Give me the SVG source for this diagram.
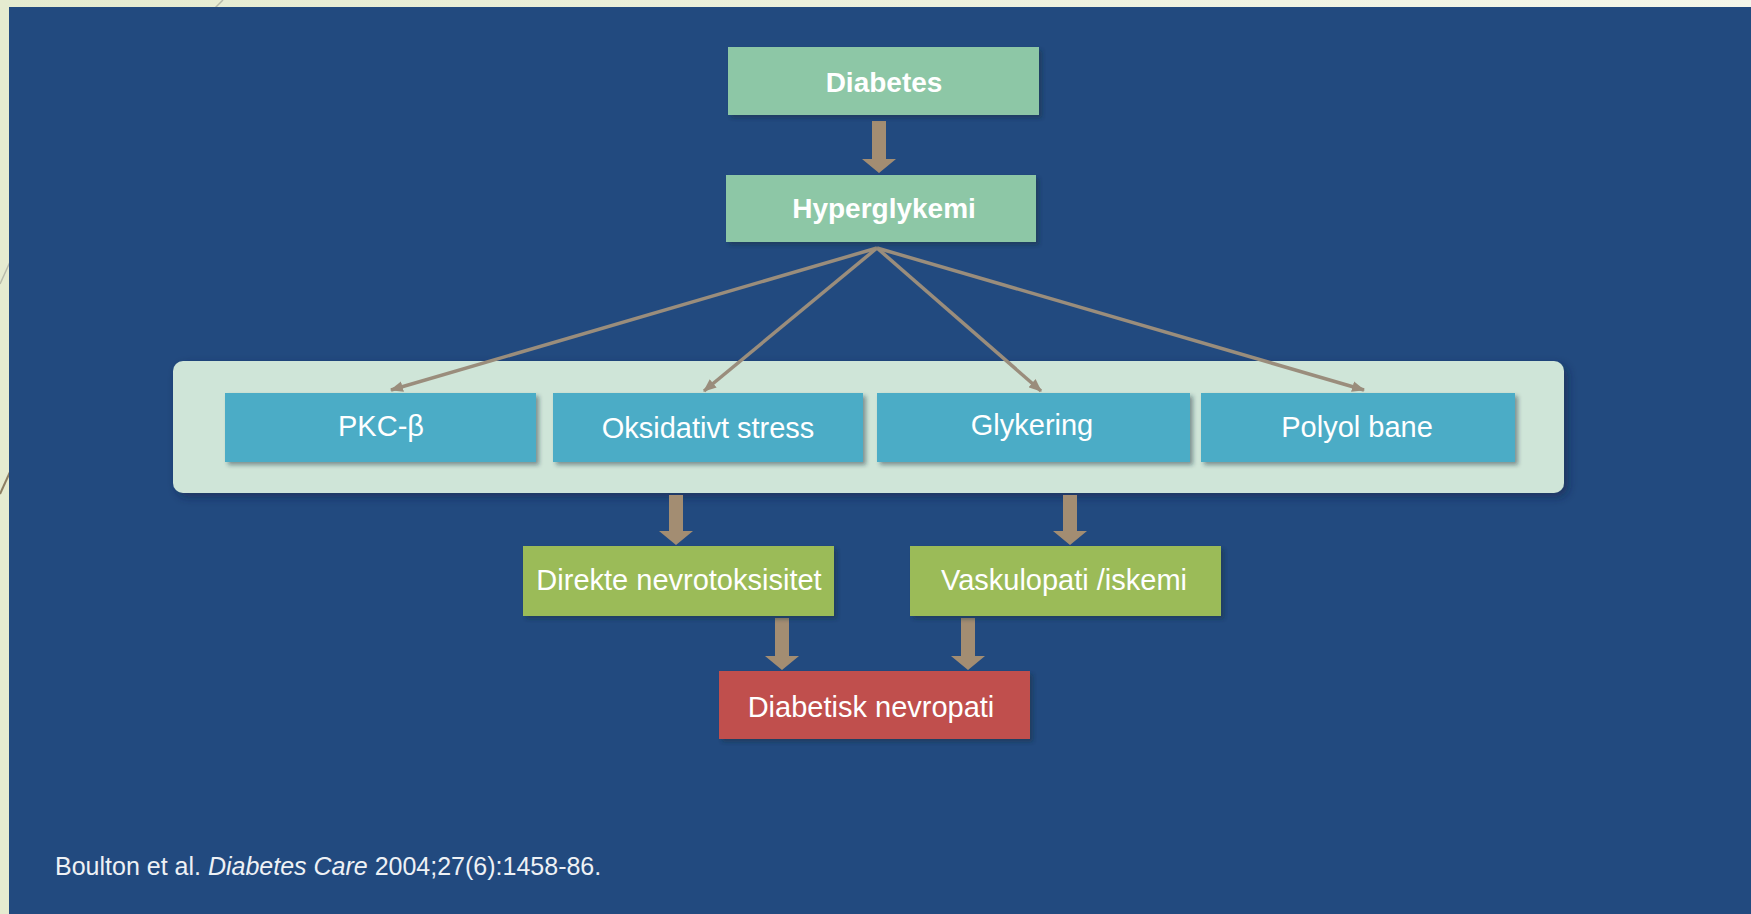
<svg xmlns="http://www.w3.org/2000/svg" width="1751" height="914" viewBox="0 0 1751 914">
  <defs>
    <linearGradient id="beige" x1="0" y1="0" x2="1" y2="0">
      <stop offset="0" stop-color="#E5EBD0"/>
      <stop offset="1" stop-color="#F4F6EA"/>
    </linearGradient>
    <filter id="shadow" x="-10%" y="-20%" width="120%" height="150%">
      <feDropShadow dx="3" dy="3" stdDeviation="2" flood-color="#1a2a3a" flood-opacity="0.45"/>
    </filter>
    <filter id="glow" x="-5%" y="-20%" width="110%" height="150%">
      <feDropShadow dx="4" dy="4" stdDeviation="5" flood-color="#0d2240" flood-opacity="0.5"/>
    </filter>
    <marker id="tip" viewBox="0 0 12 10" refX="11" refY="5" markerWidth="13" markerHeight="11" markerUnits="userSpaceOnUse" orient="auto">
      <path d="M0,0 L12,5 L0,10 Z" fill="#9A8D7C"/>
    </marker>
    <style>
      .lbl { font-family: "Liberation Sans", Arial, sans-serif; fill: #FFFFFF; text-anchor: middle; }
      .bold { font-weight: bold; font-size: 28px; }
      .reg { font-size: 29px; }
      .mint { fill: #8DC7A6; filter: url(#shadow); }
      .blue { fill: #4BACC6; filter: url(#shadow); }
      .green { fill: #9BBB59; filter: url(#shadow); }
      .red { fill: #C0504D; filter: url(#shadow); }
      .thin { stroke: #9A8D7C; stroke-width: 3.5; fill: none; marker-end: url(#tip); }
      .thick { fill: #A38D72; }
    </style>
  </defs>

  <!-- slide background -->
  <rect x="0" y="0" width="1751" height="914" fill="url(#beige)"/>
  <line x1="214" y1="9" x2="223" y2="0" stroke="#B8BBAA" stroke-width="1.5"/>
  <line x1="0" y1="284" x2="10" y2="262" stroke="#B8BBAA" stroke-width="1.5"/>
  <line x1="0" y1="494" x2="10" y2="472" stroke="#8C7E62" stroke-width="2"/>
  <rect x="9" y="7" width="1742" height="907" fill="#224A7F"/>

  <!-- container -->
  <g id="container">
    <rect x="173" y="361" width="1391" height="132" rx="10" fill="#CFE5D8" filter="url(#glow)"/>
  </g>

  <!-- connectors -->
  <g id="connectors">
    <line class="thin" x1="877" y1="248" x2="391" y2="390"/>
    <line class="thin" x1="877" y1="248" x2="704" y2="391"/>
    <line class="thin" x1="877" y1="248" x2="1041" y2="391"/>
    <line class="thin" x1="877" y1="248" x2="1364" y2="390"/>
    <path class="thick" d="M872,121 H886 V159 H896 L879,173 L862,159 H872 Z"/>
    <path class="thick" d="M669,495 H683 V531 H693 L676,545 L659,531 H669 Z"/>
    <path class="thick" d="M1063,495 H1077 V531 H1087 L1070,545 L1053,531 H1063 Z"/>
    <path class="thick" d="M775,618 H789 V656 H799 L782,670 L765,656 H775 Z"/>
    <path class="thick" d="M961,618 H975 V656 H985 L968,670 L951,656 H961 Z"/>
  </g>

  <g id="diabetes">
    <rect class="mint" x="728" y="47" width="311" height="68"/>
    <text class="lbl bold" x="884" y="92">Diabetes</text>
  </g>
  <g id="hyperglykemi">
    <rect class="mint" x="726" y="175" width="310" height="67"/>
    <text class="lbl bold" x="884" y="218">Hyperglykemi</text>
  </g>

  <g id="pkc">
    <rect class="blue" x="225" y="393" width="311" height="69"/>
    <text class="lbl reg" x="381" y="436">PKC-β</text>
  </g>
  <g id="oksidativt">
    <rect class="blue" x="553" y="393" width="310" height="69"/>
    <text class="lbl reg" x="708" y="438">Oksidativt stress</text>
  </g>
  <g id="glykering">
    <rect class="blue" x="877" y="393" width="313" height="69"/>
    <text class="lbl reg" x="1032" y="435">Glykering</text>
  </g>
  <g id="polyol">
    <rect class="blue" x="1201" y="393" width="314" height="69"/>
    <text class="lbl reg" x="1357" y="437">Polyol bane</text>
  </g>

  <g id="direkte">
    <rect class="green" x="523" y="546" width="311" height="70"/>
    <text class="lbl reg" x="679" y="590">Direkte nevrotoksisitet</text>
  </g>
  <g id="vaskulopati">
    <rect class="green" x="910" y="546" width="311" height="70"/>
    <text class="lbl reg" x="1064" y="590">Vaskulopati /iskemi</text>
  </g>

  <g id="nevropati">
    <rect class="red" x="719" y="671" width="311" height="68"/>
    <text class="lbl reg" x="871" y="717">Diabetisk nevropati</text>
  </g>

  <g id="reference">
    <text x="55" y="875" font-family="Liberation Sans, Arial, sans-serif" font-size="25" fill="#EEF1F5">Boulton et al. <tspan font-style="italic">Diabetes Care</tspan> 2004;27(6):1458-86.</text>
  </g>
</svg>
